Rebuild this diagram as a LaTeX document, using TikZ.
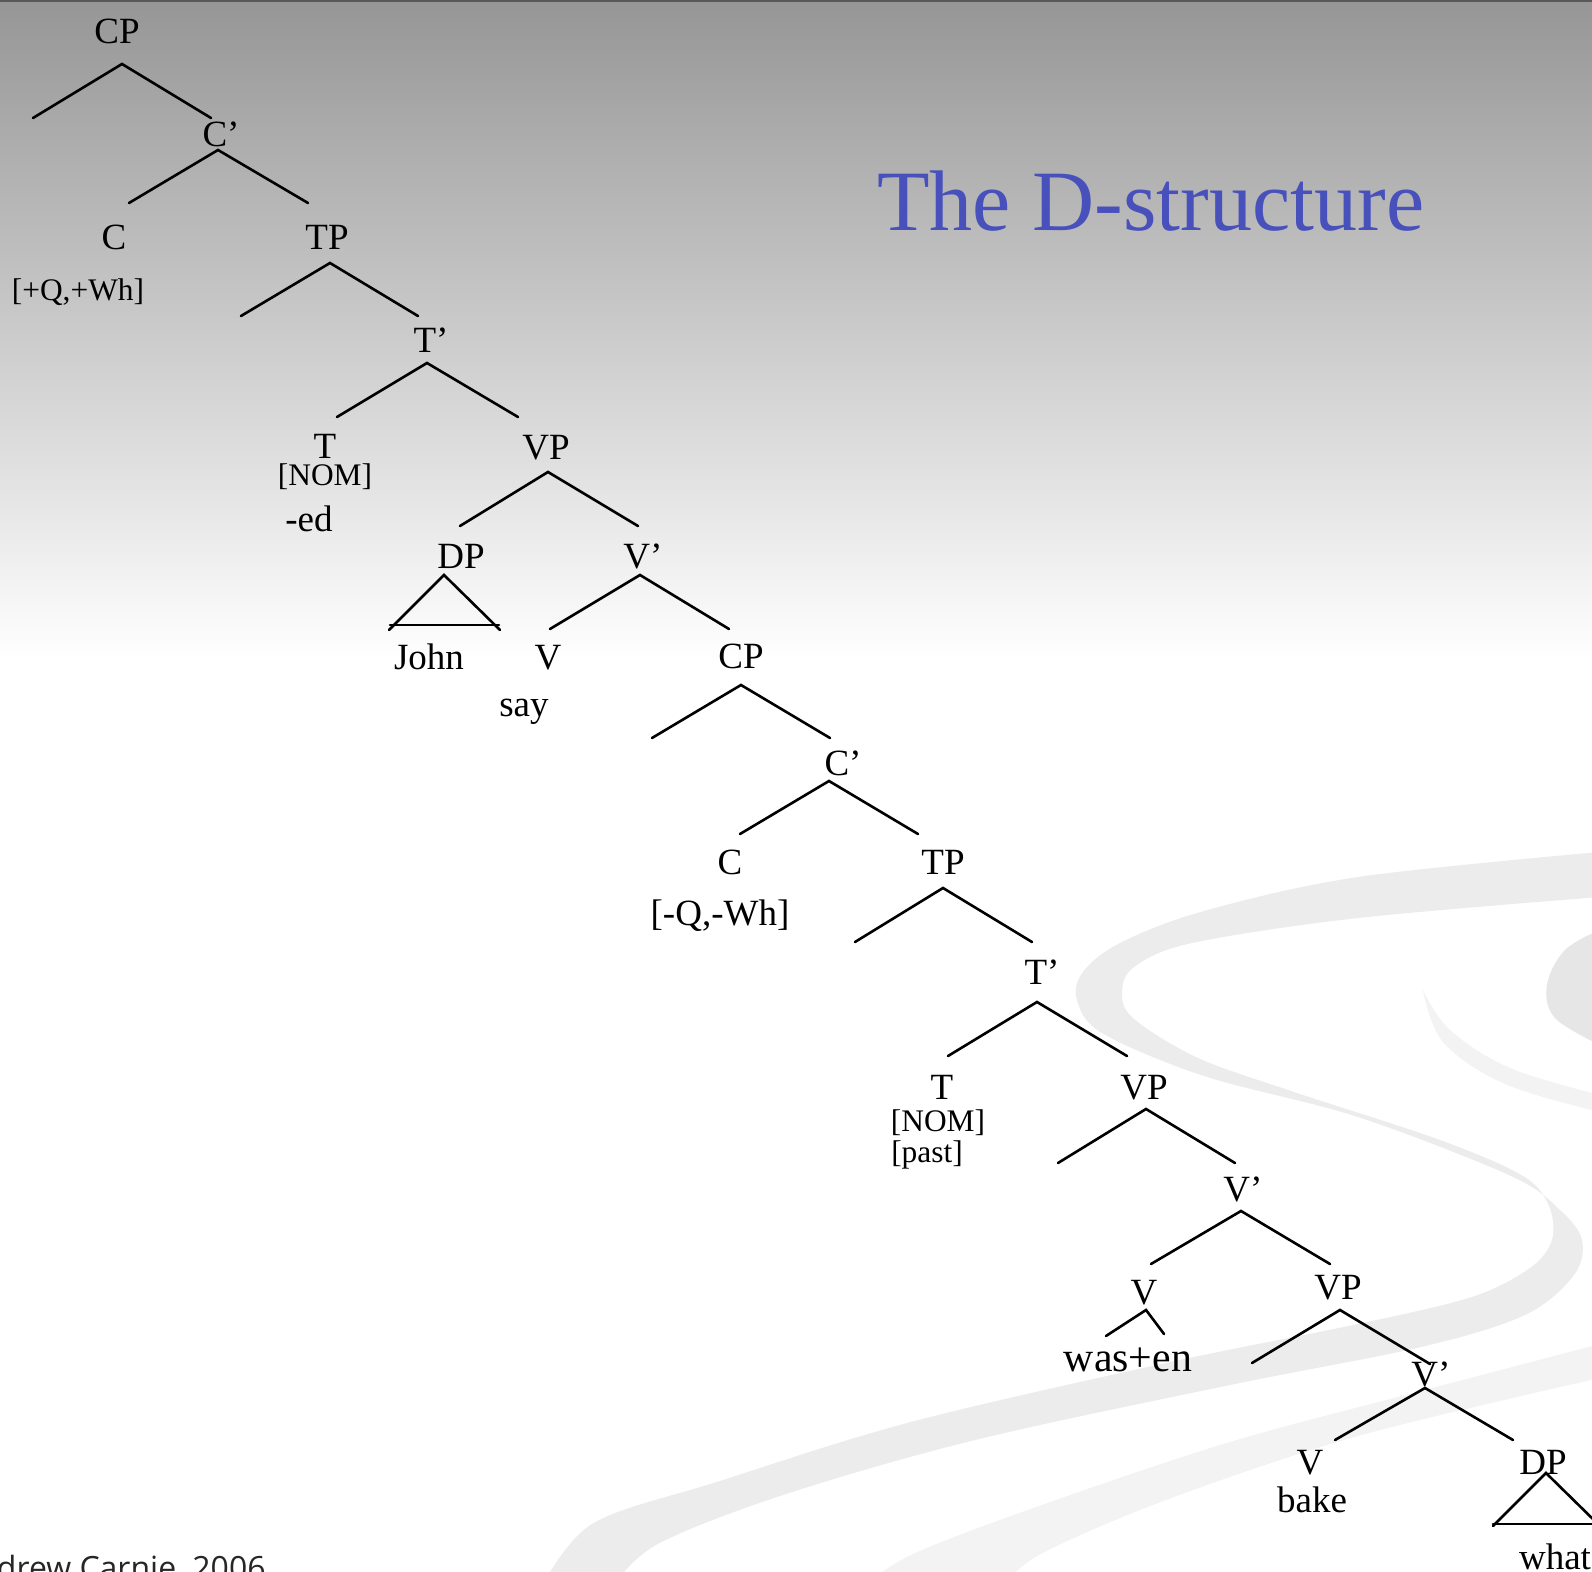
\documentclass[tikz,border=0pt]{standalone}
\usepackage{fontspec}
\setmainfont{Liberation Serif}
\newfontfamily\footfont{Open Sans}
\definecolor{titleblue}{RGB}{72,80,188}
\definecolor{bgtop}{RGB}{150,150,150}
\definecolor{bandA}{RGB}{236,236,236}
\definecolor{bandB}{RGB}{243,243,243}
\definecolor{blobc}{RGB}{230,230,230}
\begin{document}
\begin{tikzpicture}[x=0.5pt,y=-0.5pt,
  lbl/.style={anchor=base,inner sep=0pt,font=\fontsize{18.5}{20}\selectfont},
  feat/.style={anchor=base,inner sep=0pt,font=\fontsize{15.7}{17}\selectfont},
  br/.style={line width=1.3pt,line cap=round}]
\useasboundingbox (0,0) rectangle (1592,1572);
\clip (0,0) rectangle (1592,1572);
% background
\fill[white] (0,0) rectangle (1592,1572);
\shade[top color=bgtop,bottom color=white] (0,0) rectangle (1592,660);
\draw[line width=1.2pt,black!65] (0,1) -- (1592,1);
% decorative swooshes
\fill[bandA] plot[smooth,tension=0.55] coordinates {(1600,852) (1358,877) (1204,911) (1120,943) (1083,972) (1077,1000) (1102,1033) (1204,1076) (1358,1117) (1511,1176) (1560,1210) (1582,1240) (1574,1275) (1525,1315) (1421,1347) (1230,1385) (975,1440) (783,1495) (656,1545) (610,1590)}
  -- plot[smooth,tension=0.55] coordinates {(540,1590) (592,1524) (720,1481) (911,1422) (1166,1363) (1358,1324) (1472,1297) (1530,1268) (1552,1240) (1549,1206) (1523,1176) (1440,1140) (1294,1092) (1198,1058) (1134,1019) (1122,993) (1134,967) (1192,943) (1358,918) (1600,897)} -- cycle;
\fill[bandB] plot[smooth,tension=0.55] coordinates {(1600,1344) (1421,1391) (1230,1442) (1039,1506) (911,1555) (860,1590)}
  -- plot[smooth,tension=0.55] coordinates {(1000,1590) (1039,1555) (1166,1500) (1358,1436) (1600,1378)} -- cycle;
\fill[blobc] plot[smooth,tension=0.6] coordinates {(1600,930) (1565,950) (1547,985) (1555,1018) (1600,1045)} -- cycle;
\fill[bandB] plot[smooth,tension=0.6] coordinates {(1423,990) (1450,1030) (1510,1068) (1600,1095)}
  -- plot[smooth,tension=0.6] coordinates {(1600,1112) (1505,1084) (1443,1042) (1423,990)} -- cycle;
% title and footer
\node[anchor=base west,inner sep=0pt,text=titleblue,font=\fontsize{43}{46}\selectfont] (title) at (877,231) {The D-structure};
\node[anchor=base east,inner sep=0pt,text=black!85,font=\footfont\fontsize{16}{18}\selectfont] (foot) at (266,1579) {Andrew Carnie, 2006};
% ---- tree labels ----
\node[lbl] (cpA) at (117,44) {CP};
\node[lbl] (cbA) at (221,147) {C’};
\node[lbl] (cA) at (114,250) {C};
\node[feat] (cAf) at (78,301) {[+Q,+Wh]};
\node[lbl] (tpA) at (327,250) {TP};
\node[lbl] (tbA) at (431,353) {T’};
\node[lbl] (tA) at (325,459) {T};
\node[feat] (tAf) at (325,486) {[NOM]};
\node[lbl] (tAm) at (309,532) {-ed};
\node[lbl] (vpA) at (546,460) {VP};
\node[lbl] (dpA) at (461,569) {DP};
\node[lbl] (john) at (429,670) {John};
\node[lbl] (vbA) at (643,569) {V’};
\node[lbl] (vA) at (548,670) {V};
\node[lbl] (say) at (524,717) {say};
\node[lbl] (cpB) at (741,669) {CP};
\node[lbl] (cbB) at (843,776) {C’};
\node[lbl] (cB) at (730,875) {C};
\node[lbl] (cBf) at (720,926) {[-Q,-Wh]};
\node[lbl] (tpB) at (943,875) {TP};
\node[lbl] (tbB) at (1042,985) {T’};
\node[lbl] (tB) at (942,1099) {T};
\node[feat] (tBf) at (938,1131) {[NOM]};
\node[feat] (tBp) at (927,1162) {[past]};
\node[lbl] (vpB) at (1144,1099) {VP};
\node[lbl] (vbB) at (1243,1201) {V’};
\node[lbl] (vB) at (1144,1304) {V};
\node[anchor=base,inner sep=0pt,font=\fontsize{20.9}{22}\selectfont] (wasen) at (1128,1371) {was+en};
\node[lbl] (vpC) at (1338,1299) {VP};
\node[lbl] (vbC) at (1431,1386) {V’};
\node[lbl] (vC) at (1310,1474) {V};
\node[lbl] (bake) at (1312,1512) {bake};
\node[lbl] (dpB) at (1543,1474) {DP};
\node[lbl] (what) at (1555,1569) {what};
% ---- branch points ----
\coordinate (cpAa) at (122,64);  \coordinate (cpAl) at (33,118);  \coordinate (cpAr) at (211,118);
\coordinate (cbAa) at (218,150); \coordinate (cbAl) at (129,203); \coordinate (cbAr) at (308,203);
\coordinate (tpAa) at (330,263); \coordinate (tpAl) at (241,316); \coordinate (tpAr) at (418,316);
\coordinate (tbAa) at (427,363); \coordinate (tbAl) at (337,417); \coordinate (tbAr) at (518,417);
\coordinate (vpAa) at (548,472); \coordinate (vpAl) at (460,526); \coordinate (vpAr) at (638,526);
\coordinate (dpAa) at (444,575); \coordinate (dpAl) at (389,630); \coordinate (dpAr) at (500,630);
\coordinate (dpAbl) at (390,625); \coordinate (dpAbr) at (499,625);
\coordinate (vbAa) at (640,575); \coordinate (vbAl) at (550,629); \coordinate (vbAr) at (729,629);
\coordinate (cpBa) at (741,685); \coordinate (cpBl) at (652,738); \coordinate (cpBr) at (830,738);
\coordinate (cbBa) at (829,781); \coordinate (cbBl) at (740,834); \coordinate (cbBr) at (918,834);
\coordinate (tpBa) at (943,888); \coordinate (tpBl) at (855,942); \coordinate (tpBr) at (1032,942);
\coordinate (tbBa) at (1037,1002); \coordinate (tbBl) at (948,1056); \coordinate (tbBr) at (1127,1056);
\coordinate (vpBa) at (1146,1109); \coordinate (vpBl) at (1058,1163); \coordinate (vpBr) at (1235,1163);
\coordinate (vbBa) at (1241,1211); \coordinate (vbBl) at (1151,1264); \coordinate (vbBr) at (1330,1264);
\coordinate (vBa) at (1146,1310); \coordinate (vBl) at (1106,1336); \coordinate (vBr) at (1164,1334);
\coordinate (vpCa) at (1340,1310); \coordinate (vpCl) at (1252,1363); \coordinate (vpCr) at (1430,1364);
\coordinate (vbCa) at (1425,1388); \coordinate (vbCl) at (1335,1440); \coordinate (vbCr) at (1513,1440);
\coordinate (dpBa) at (1546,1473); \coordinate (dpBl) at (1493,1526); \coordinate (dpBr) at (1600,1526);
\coordinate (dpBbl) at (1493,1524); \coordinate (dpBbr) at (1600,1524);
% ---- branches ----
\foreach \n in {cpA,cbA,tpA,tbA,vpA,vbA,cpB,cbB,tpB,tbB,vpB,vbB,vB,vpC,vbC}
  \draw[br] (\n l) -- (\n a) -- (\n r);
\draw[br] (dpAl) -- (dpAa) -- (dpAr);
\draw[br] (dpAbl) -- (dpAbr);
\draw[br] (dpBl) -- (dpBa) -- (dpBr);
\draw[br] (dpBbl) -- (dpBbr);
\end{tikzpicture}
\end{document}
